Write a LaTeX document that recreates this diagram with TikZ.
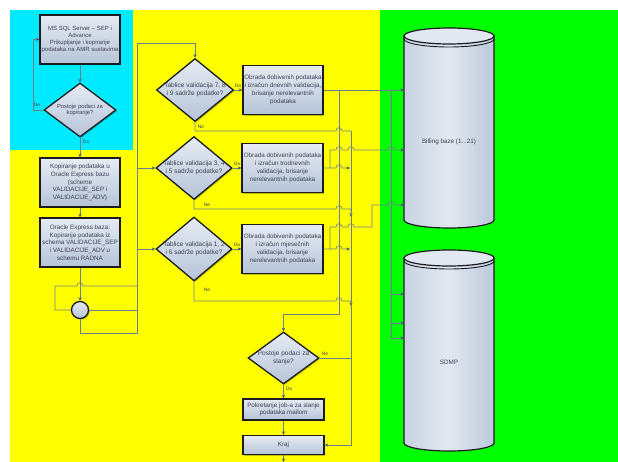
\documentclass[tikz,border=0pt]{standalone}
\usepackage{fontspec}
\setmainfont{Liberation Sans}
\usetikzlibrary{shapes.geometric,arrows.meta,shadows}
\definecolor{cyanbg}{RGB}{0,234,255}
\definecolor{yellowbg}{RGB}{255,255,0}
\definecolor{greenbg}{RGB}{0,255,0}
\definecolor{lineC}{RGB}{110,128,140}
\definecolor{arrC}{RGB}{70,92,115}
\definecolor{boxT}{RGB}{230,235,243}
\definecolor{boxB}{RGB}{182,196,216}
\definecolor{txtC}{RGB}{60,65,82}
\definecolor{edgeC}{RGB}{28,28,32}
\definecolor{cylL}{RGB}{200,211,226}
\definecolor{cylM}{RGB}{226,232,241}
\definecolor{cylR}{RGB}{186,200,219}
\newcommand\hopat[2]{-- ({#1-3},#2) .. controls ({#1-3},{#2-4.5}) and ({#1+3},{#2-4.5}) .. ({#1+3},#2)}
\tikzset{
  shd/.style={drop shadow={shadow xshift=1.2pt,shadow yshift=-1.2pt,opacity=0.25,fill=black}},
  box/.style={rectangle, draw=edgeC, line width=1.3pt, top color=boxT, bottom color=boxB,
    inner sep=0pt, align=center, text=txtC, shd},
  dia/.style={diamond, draw=edgeC, line width=1.3pt, top color=boxT, bottom color=boxB,
    inner sep=0pt, shd},
  dtxt/.style={align=center, text=txtC, inner sep=0pt},
  conn/.style={draw=lineC, line width=0.6pt},
  arr/.style={-{Stealth[length=3.6pt,width=3.2pt,color=arrC]}},
  lab/.style={font=\fontsize{4.8}{5}\selectfont, text=txtC, inner sep=0pt},
  edge/.style={draw=edgeC, line width=1.2pt},
  cyltxt/.style={font=\fontsize{6.3}{7}\selectfont, text=txtC, inner sep=0pt},
}
\begin{document}
\begin{tikzpicture}[x=1pt,y=-1pt]
\useasboundingbox (0,0) rectangle (618,462);
\fill[white] (0,0) rectangle (618,462);
\fill[yellowbg] (10,10) rectangle (380,462);
\fill[cyanbg] (10,10) rectangle (133,150);
\fill[greenbg] (380,10) rectangle (618,462);

% left column
\node[box, minimum width=80pt, minimum height=49pt, font=\fontsize{6.0}{6.9}\selectfont] (b1) at (80,39.5)
  {MS SQL Server – SEP i\\Advance\\Prikupljanje i kopiranje\\podataka na AMR sustavima};
\node[dia, minimum width=72pt, minimum height=54pt] (d1) at (80,110) {};
\node[dtxt, font=\fontsize{5.8}{6.8}\selectfont] at (d1) {Postoje podaci za\\kopiranje?};
\node[box, minimum width=80pt, minimum height=49pt, font=\fontsize{6.3}{7.8}\selectfont] (b2) at (80,182.5)
  {Kopiranje podataka u\\Oracle Express bazu\\(scheme\\VALIDACIJE\_SEP i\\VALIDACIJE\_ADV)};
\node[box, minimum width=80pt, minimum height=49pt, font=\fontsize{6.3}{7.7}\selectfont] (b3) at (80,242.5)
  {Oracle Express baza:\\Kopiranje podataka iz\\schema VALIDACIJE\_SEP\\i VALIDACIJE\_ADV u\\schemu RADNA};
\node[circle, draw=edgeC, line width=1.3pt, top color=boxT, bottom color=boxB, minimum size=17pt, inner sep=0pt, shd] (cc) at (80,310) {};

% validation diamonds and boxes
\node[dia, minimum width=77pt, minimum height=63pt] (dA) at (195,90) {};
\node[dtxt, font=\fontsize{6.5}{8}\selectfont] at (dA) {Tablice validacija 7, 8\\i 9 sadrže podatke?};
\node[dia, minimum width=76pt, minimum height=63pt] (dB) at (194,168) {};
\node[dtxt, font=\fontsize{6.5}{8}\selectfont] at (dB) {Tablice validacija 3, 4\\i 5 sadrže podatke?};
\node[dia, minimum width=76pt, minimum height=64pt] (dC) at (194,249) {};
\node[dtxt, font=\fontsize{6.5}{8}\selectfont] at (dC) {Tablice validacija 1, 2\\i 6 sadrže podatke?};

\node[box, minimum width=80pt, minimum height=49pt, font=\fontsize{6.3}{8}\selectfont] (bA) at (283,90)
  {Obrada dobivenih podataka\\i izračun dnevnih validacija,\\brisanje nerelevantnih\\podataka};
\node[box, minimum width=81pt, minimum height=49pt, font=\fontsize{6.3}{8}\selectfont] (bB) at (282.5,168)
  {Obrada dobivenih podataka\\i izračun trodnevnih\\validacija, brisanje\\nerelevantnih podataka};
\node[box, minimum width=81pt, minimum height=49pt, font=\fontsize{6.3}{8}\selectfont] (bC) at (282.5,249)
  {Obrada dobivenih podataka\\i izračun mjesečnih\\validacija, brisanje\\nerelevantnih podataka};

% bottom part
\node[dia, minimum width=71pt, minimum height=52pt] (dD) at (283.5,358) {};
\node[dtxt, font=\fontsize{6.5}{7.6}\selectfont] at (dD) {Postoje podaci za\\slanje?};
\node[box, minimum width=81pt, minimum height=21pt, font=\fontsize{6.3}{7.6}\selectfont] (bP) at (283.5,409.5)
  {Pokretanje job-a za slanje\\podataka mailom};
\node[box, minimum width=81pt, minimum height=19pt, font=\fontsize{6.3}{7.6}\selectfont] (bK) at (283.5,445)
  {Kraj};
\coordinate (endK) at (283.5,462);

% cylinders
\foreach \t/\b in {36/220, 258/443}{
  \fill[left color=cylL, right color=cylR, middle color=cylM]
    (404,\t) -- (404,\b) arc[start angle=180,end angle=360,x radius=45pt,y radius=8pt] -- (494,\t) -- cycle;
  \draw[edge] (404,\t) -- (404,\b) arc[start angle=180,end angle=360,x radius=45pt,y radius=8pt] -- (494,\t);
  \draw[edge, fill=cylM] (449,\t) ellipse[x radius=45pt, y radius=8pt];
  \draw[edge, line width=0.9pt] (404,\t+3) arc[start angle=180,end angle=360,x radius=45pt,y radius=8pt];
}
\node[cyltxt] (cy1) at (449,142) {Billing baze (1...21)};
\node[cyltxt] (cy2) at (449,362) {SDMP};
\coordinate (c1a) at (404,90);
\coordinate (c1b) at (404,150);
\coordinate (c1c) at (404,205);
\coordinate (c2a) at (404,294);
\coordinate (c2b) at (404,323);
\coordinate (c2c) at (404,338);

% left column connectors
\draw[conn,arr] (b1.south) -- (d1.north);
\draw[conn,arr] (d1.west) -- (33,110) -- (33,39.5) -- (b1.west);
\node[lab] at (37,105) {Ne};
\draw[conn,arr] (d1.south) -- (b2.north);
\node[lab] at (86,142) {Da};
\draw[conn,arr] (b2.south) -- (b3.north);
\draw[conn,arr] (b3.south) -- (cc.north);
\draw[conn] (137,286) -- (83,286) .. controls (83,281.5) and (77,281.5) .. (77,286) -- (55,286) -- (55,310) -- (cc.west);
\draw[conn] (cc.east) -- (137,310);
\draw[conn,arr] (cc.south) -- (80,333) -- (137,333) -- (137,43) -- (195,43) -- (dA.north);
\draw[conn,arr] (137,168) -- (dB.west);
\draw[conn,arr] (137,249) -- (dC.west);

% Da branches
\draw[conn,arr] (dA.east) -- (bA.west);
\draw[conn,arr] (dB.east) -- (bB.west);
\draw[conn,arr] (dC.east) -- (bC.west);
\node[lab] at (238,86) {Da};
\node[lab] at (237,164) {Da};
\node[lab] at (237,245) {Da};

% Ne branches
\draw[conn] (dA.south) -- (195,131) \hopat{339}{131} -- (351,131);
\draw[conn,arr] (dB.south) -- (194,209) \hopat{339}{209} -- (351,209) -- (351,217);
\draw[conn,arr] (dC.south) -- (194,301) \hopat{339}{301} -- (351,301) -- (351,306);
\node[lab] at (201,127) {Ne};
\node[lab] at (207,205) {Ne};
\node[lab] at (207,290) {Ne};
\draw[conn,arr] (351,131) -- (351,445) -- (bK.east);

% outputs to databases
\draw[conn,arr] (bA.east) -- (c1a);
\draw[conn,arr] (339,90) -- (339,314) -- (283.5,314) -- (dD.north);
\draw[conn,arr] (bB.east) \hopat{339}{168} -- (350,168);
\draw[conn,arr] (330,168) -- (330,150) \hopat{339}{150} \hopat{351}{150} \hopat{391}{150} -- (c1b);
\draw[conn,arr] (bC.east) \hopat{339}{249} -- (350,249);
\draw[conn,arr] (330,249) -- (330,227) \hopat{339}{227} \hopat{351}{227} -- (372,227) -- (372,205) \hopat{391}{205} -- (c1c);
\draw[conn] (391,90) -- (391,338);
\draw[conn,arr] (391,294) -- (c2a);
\draw[conn,arr] (391,323) -- (c2b);
\draw[conn,arr] (391,338) -- (c2c);

% final part
\draw[conn] (dD.east) -- (351,358);
\node[lab] at (325,354) {Ne};
\draw[conn,arr] (dD.south) -- (bP.north);
\node[lab] at (289,389) {Da};
\draw[conn,arr] (bP.south) -- (bK.north);
\draw[conn,arr] (bK.south) -- (endK);
\end{tikzpicture}
\end{document}
